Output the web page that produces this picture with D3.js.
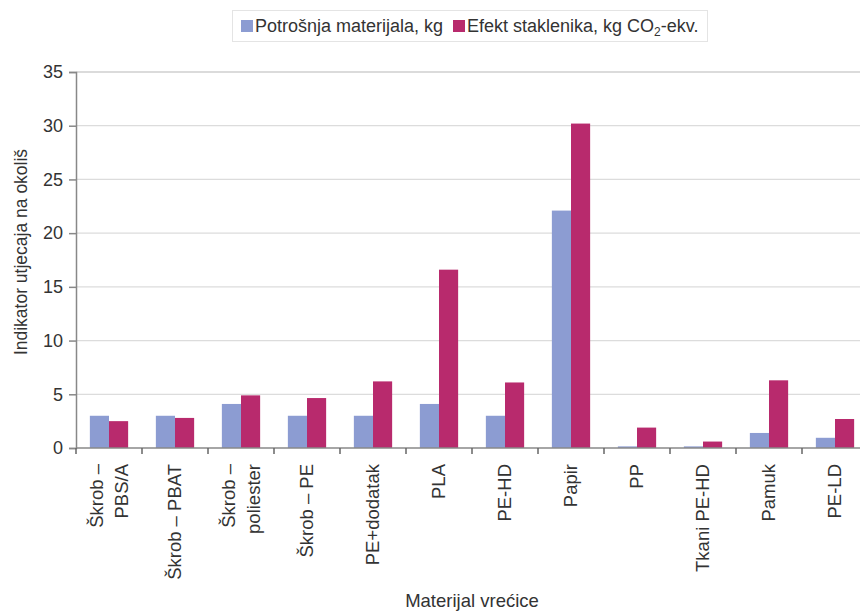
<!DOCTYPE html>
<html>
<head>
<meta charset="utf-8">
<script src="https://cdn.jsdelivr.net/npm/d3@7"></script>
<style>
  html, body { margin: 0; padding: 0; background: #fff; }
  svg { display: block; font-family: "Liberation Sans", Arial, sans-serif; }
</style>
</head>
<body>
<svg id="chart" width="860" height="612"></svg>
<script>
// Bag materials (multi-line labels split on "\n")
const categories = [
  "Škrob –\nPBS/A", "Škrob – PBAT", "Škrob –\npoliester", "Škrob – PE",
  "PE+dodatak", "PLA", "PE-HD", "Papir", "PP", "Tkani PE-HD", "Pamuk", "PE-LD"
];
// Material consumption, kg
const materialUse = [3.0, 3.0, 4.1, 3.0, 3.0, 4.1, 3.0, 22.1, 0.15, 0.15, 1.4, 0.95];
// Greenhouse effect, kg CO2-eq.
const greenhouse = [2.5, 2.8, 4.9, 4.65, 6.2, 16.6, 6.1, 30.2, 1.9, 0.6, 6.3, 2.7];
const yTicks = [0, 5, 10, 15, 20, 25, 30, 35];
const seriesNames = ["Potrošnja materijala, kg", "Efekt staklenika, kg CO"];
const colors = ["#8c9cd2", "#b82a6d"];

const svg = d3.select("#chart");
const plot = { left: 76, right: 868, top: 72, bottom: 448 };
const textColor = "#333";

const x0 = d3.scaleBand().domain(categories).range([plot.left, plot.right])
  .paddingInner(0.42).paddingOuter(0.21);
const x1 = d3.scaleBand().domain([0, 1]).range([0, x0.bandwidth()]);
const y = d3.scaleLinear().domain([0, 35]).range([plot.bottom, plot.top]);

// gridlines
svg.append("g").selectAll("line").data(yTicks.filter(d => d > 0)).join("line")
  .attr("x1", plot.left).attr("x2", plot.right)
  .attr("y1", d => y(d)).attr("y2", d => y(d))
  .attr("stroke", d => d === 35 ? "#b8b8b8" : "#dcdcdc")
  .attr("stroke-width", 1.2);

// bars
const groups = svg.append("g").selectAll("g").data(categories).join("g")
  .attr("transform", d => `translate(${x0(d)},0)`);
groups.selectAll("rect")
  .data((d, i) => [materialUse[i], greenhouse[i]])
  .join("rect")
  .attr("x", (d, j) => x1(j))
  .attr("width", x1.bandwidth())
  .attr("y", d => y(d))
  .attr("height", d => plot.bottom - y(d))
  .attr("fill", (d, j) => colors[j]);

// y axis
const yAxis = svg.append("g").attr("transform", `translate(${plot.left},0)`)
  .call(d3.axisLeft(y).tickValues(yTicks).tickSize(7).tickPadding(6));
yAxis.select(".domain").attr("stroke", "#888").attr("stroke-width", 1.5);
yAxis.selectAll(".tick line").attr("stroke", "#888").attr("stroke-width", 1.5);
yAxis.selectAll(".tick text").attr("font-size", 18).attr("fill", textColor)
  .attr("font-family", "Liberation Sans, Arial, sans-serif");

// x axis line and boundary ticks
const step = x0.step();
const bounds = d3.range(categories.length + 1).map(i => x0(categories[0]) - step * 0.21 + i * step);
svg.append("line").attr("x1", plot.left).attr("x2", plot.right)
  .attr("y1", plot.bottom).attr("y2", plot.bottom)
  .attr("stroke", "#888").attr("stroke-width", 1.5);
svg.append("g").selectAll("line").data(bounds).join("line")
  .attr("x1", d => d).attr("x2", d => d).attr("y1", plot.bottom).attr("y2", plot.bottom + 6)
  .attr("stroke", "#666").attr("stroke-width", 1.5);

// x category labels (rotated)
const lbl = svg.append("g").selectAll("text").data(categories).join("text")
  .attr("transform", d => `translate(${x0(d) + x0.bandwidth() / 2},${plot.bottom + 16}) rotate(-90)`)
  .attr("text-anchor", "end").attr("font-size", 18.5).attr("fill", textColor);
lbl.each(function(d) {
  const lines = d.split("\n");
  const t = d3.select(this);
  lines.forEach((s, k) => {
    t.append("tspan").attr("x", 0)
      .attr("dy", k === 0 ? (0.35 - (lines.length - 1) * 0.68) + "em" : "1.36em")
      .text(s);
  });
});

// axis titles
svg.append("text").attr("transform", `translate(27,${(plot.top + plot.bottom) / 2 - 8}) rotate(-90)`)
  .attr("text-anchor", "middle").attr("font-size", 17.5).attr("fill", textColor)
  .text("Indikator utjecaja na okoliš");
svg.append("text").attr("x", (plot.left + plot.right) / 2).attr("y", 607)
  .attr("text-anchor", "middle").attr("font-size", 18.5).attr("fill", textColor)
  .text("Materijal vrećice");

// legend
const lg = svg.append("g");
lg.append("rect").attr("x", 232.5).attr("y", 10.5).attr("width", 475).attr("height", 31)
  .attr("fill", "#fff").attr("stroke", "#e4e4e4");
const legendItems = [
  { x: 241, name: seriesNames[0], color: colors[0] },
  { x: 453, name: seriesNames[1], color: colors[1] }
];
legendItems.forEach((it, i) => {
  lg.append("rect").attr("x", it.x).attr("y", 20).attr("width", 12).attr("height", 12).attr("fill", it.color);
  const t = lg.append("text").attr("x", it.x + 14).attr("y", 32)
    .attr("font-size", 18).attr("fill", textColor).text(it.name);
  if (i === 1) {
    t.append("tspan").attr("font-size", 12).attr("dy", 4).text("2");
    t.append("tspan").attr("dy", -4).text("-ekv.");
  }
});
</script>
</body>
</html>
